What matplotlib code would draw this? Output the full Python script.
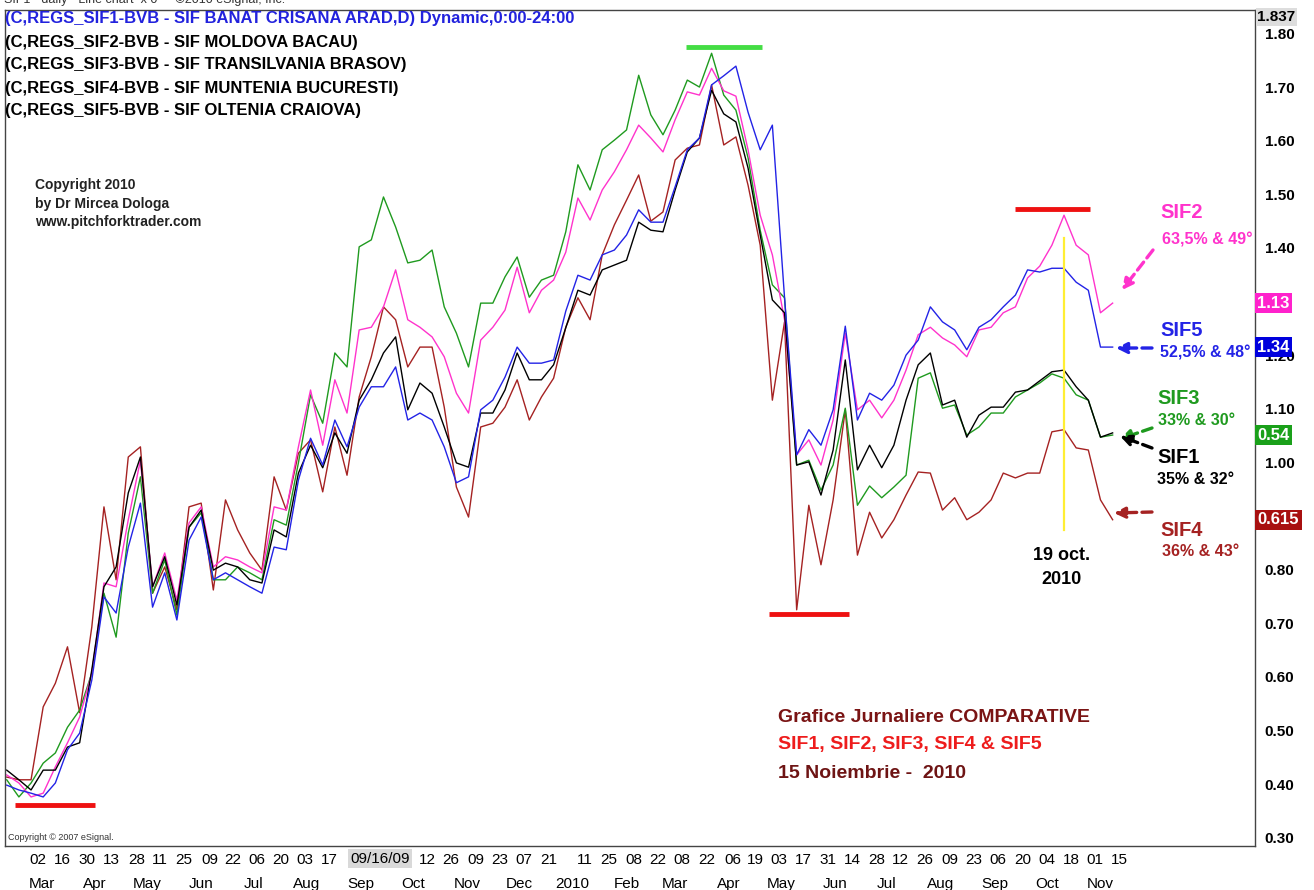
import pandas as pd
import numpy as np
import matplotlib
matplotlib.use('Agg')
import matplotlib.pyplot as plt
import matplotlib.transforms as mtrans

plt.rcParams['font.family'] = ['Liberation Sans', 'DejaVu Sans']

# weekly closes (Thursdays, 12 Feb 2009 .. 11 Nov 2010)
dates = pd.date_range('2009-02-12', periods=92, freq='7D')

sif1 = [0.426, 0.408, 0.389, 0.426, 0.426, 0.469, 0.477, 0.613, 0.768, 0.805,
        0.943, 1.010, 0.768, 0.824, 0.734, 0.879, 0.911, 0.799, 0.812, 0.805,
        0.781, 0.775, 0.874, 0.861, 0.980, 1.032, 0.990, 1.055, 1.017, 1.116,
        1.154, 1.204, 1.234, 1.098, 1.148, 1.129, 1.066, 0.999, 0.991, 1.092,
        1.092, 1.135, 1.204, 1.154, 1.154, 1.182, 1.251, 1.321, 1.312, 1.359,
        1.368, 1.377, 1.448, 1.433, 1.430, 1.508, 1.579, 1.605, 1.694, 1.650,
        1.635, 1.549, 1.424, 1.303, 1.279, 0.995, 1.001, 0.939, 1.023, 1.191,
        0.986, 1.032, 0.990, 1.032, 1.116, 1.182, 1.204, 1.107, 1.116, 1.047,
        1.088, 1.103, 1.103, 1.131, 1.135, 1.152, 1.169, 1.172, 1.141, 1.116,
        1.047, 1.055]

sif2 = [0.417, 0.402, 0.376, 0.383, 0.432, 0.477, 0.525, 0.607, 0.775, 0.768,
        0.893, 1.004, 0.768, 0.831, 0.743, 0.887, 0.917, 0.805, 0.824, 0.818,
        0.805, 0.794, 0.917, 0.911, 1.029, 1.135, 1.032, 1.154, 1.092, 1.247,
        1.252, 1.290, 1.359, 1.266, 1.252, 1.234, 1.197, 1.129, 1.092, 1.228,
        1.252, 1.284, 1.364, 1.279, 1.321, 1.340, 1.392, 1.493, 1.452, 1.508,
        1.542, 1.583, 1.629, 1.605, 1.579, 1.639, 1.691, 1.685, 1.735, 1.693,
        1.683, 1.583, 1.461, 1.387, 1.266, 1.014, 1.042, 0.995, 1.079, 1.241,
        1.098, 1.116, 1.083, 1.116, 1.172, 1.238, 1.252, 1.232, 1.219, 1.197,
        1.247, 1.252, 1.279, 1.290, 1.344, 1.366, 1.405, 1.461, 1.405, 1.387,
        1.279, 1.297]

sif3 = [0.408, 0.376, 0.402, 0.439, 0.458, 0.506, 0.538, 0.607, 0.756, 0.674,
        0.868, 0.973, 0.756, 0.818, 0.715, 0.879, 0.906, 0.781, 0.781, 0.805,
        0.794, 0.781, 0.893, 0.883, 0.999, 1.126, 1.073, 1.204, 1.178, 1.402,
        1.415, 1.495, 1.439, 1.372, 1.377, 1.396, 1.290, 1.241, 1.178, 1.297,
        1.297, 1.346, 1.383, 1.308, 1.340, 1.349, 1.430, 1.555, 1.508, 1.583,
        1.601, 1.620, 1.722, 1.648, 1.611, 1.657, 1.713, 1.700, 1.763, 1.685,
        1.657, 1.568, 1.433, 1.331, 1.307, 0.995, 1.004, 0.948, 0.995, 1.101,
        0.920, 0.956, 0.934, 0.954, 0.976, 1.157, 1.167, 1.101, 1.107, 1.051,
        1.066, 1.092, 1.092, 1.122, 1.135, 1.148, 1.165, 1.157, 1.126, 1.116,
        1.047, 1.051]

sif4 = [0.413, 0.408, 0.408, 0.544, 0.588, 0.656, 0.533, 0.693, 0.917, 0.781,
        1.010, 1.029, 0.756, 0.805, 0.725, 0.917, 0.924, 0.762, 0.930, 0.874,
        0.831, 0.799, 0.973, 0.911, 1.017, 1.042, 0.945, 1.066, 0.976, 1.122,
        1.197, 1.290, 1.266, 1.178, 1.215, 1.215, 1.103, 0.954, 0.898, 1.066,
        1.073, 1.103, 1.154, 1.079, 1.122, 1.157, 1.252, 1.307, 1.266, 1.387,
        1.443, 1.489, 1.536, 1.450, 1.467, 1.564, 1.586, 1.592, 1.704, 1.592,
        1.607, 1.517, 1.405, 1.116, 1.262, 0.725, 0.920, 0.809, 0.930, 1.098,
        0.827, 0.907, 0.859, 0.893, 0.939, 0.982, 0.980, 0.911, 0.934, 0.893,
        0.907, 0.930, 0.980, 0.971, 0.980, 0.980, 1.057, 1.061, 1.027, 1.023,
        0.930, 0.893]

sif5 = [0.398, 0.389, 0.383, 0.376, 0.402, 0.464, 0.495, 0.594, 0.749, 0.719,
        0.842, 0.924, 0.730, 0.794, 0.706, 0.855, 0.898, 0.781, 0.794, 0.781,
        0.768, 0.756, 0.842, 0.837, 0.967, 1.045, 0.995, 1.079, 1.029, 1.103,
        1.141, 1.141, 1.178, 1.079, 1.092, 1.079, 1.029, 0.962, 0.973, 1.098,
        1.116, 1.159, 1.215, 1.185, 1.185, 1.191, 1.282, 1.349, 1.340, 1.387,
        1.396, 1.424, 1.471, 1.448, 1.448, 1.514, 1.583, 1.605, 1.704, 1.721,
        1.739, 1.653, 1.583, 1.629, 1.308, 1.014, 1.061, 1.032, 1.098, 1.254,
        1.079, 1.129, 1.116, 1.144, 1.200, 1.228, 1.290, 1.262, 1.247, 1.210,
        1.252, 1.266, 1.290, 1.312, 1.359, 1.355, 1.362, 1.362, 1.336, 1.321,
        1.215, 1.215]

last_price = {'SIF2': '1.13', 'SIF5': '1.34', 'SIF3': '0.54', 'SIF4': '0.615'}
axis_top = '1.837'

# support / resistance marks drawn on the chart
levels = [('2010-03-10', '2010-04-23', 1.775, '#44dd44'),
          ('2010-09-16', '2010-10-29', 1.472, '#ee1111'),
          ('2010-04-27', '2010-06-12', 0.717, '#ee1111'),
          ('2009-02-17', '2009-04-04', 0.361, '#ee1111')]
mark_day = '2010-10-14'
mark_range = [0.874, 1.418]

day_ticks = ['2009-03-02', '2009-03-16', '2009-03-30', '2009-04-13', '2009-04-28',
             '2009-05-11', '2009-05-25', '2009-06-09', '2009-06-22', '2009-07-06',
             '2009-07-20', '2009-08-03', '2009-08-17', '2009-10-12', '2009-10-26',
             '2009-11-09', '2009-11-23', '2009-12-07', '2009-12-21', '2010-01-11',
             '2010-01-25', '2010-02-08', '2010-02-22', '2010-03-08', '2010-03-22',
             '2010-04-06', '2010-04-19', '2010-05-03', '2010-05-17', '2010-05-31',
             '2010-06-14', '2010-06-28', '2010-07-12', '2010-07-26', '2010-08-09',
             '2010-08-23', '2010-09-06', '2010-09-20', '2010-10-04', '2010-10-18',
             '2010-11-01', '2010-11-15']
month_names = ['Mar', 'Apr', 'May', 'Jun', 'Jul', 'Aug', 'Sep', 'Oct', 'Nov', 'Dec',
               '2010', 'Feb', 'Mar', 'Apr', 'May', 'Jun', 'Jul', 'Aug', 'Sep', 'Oct', 'Nov']
month_pos = pd.date_range('2009-03-01', periods=21, freq='MS') + pd.Timedelta(days=3)
hidden_y = ['1.30', '0.90']   # covered by the last-value flags

colors = {'SIF1': 'black', 'SIF2': '#ff33cc', 'SIF3': '#1f9a1f',
          'SIF4': '#a52222', 'SIF5': '#2323e6'}
box_colors = {'SIF2': '#ff22cc', 'SIF5': '#0000dd', 'SIF3': '#1aa01a', 'SIF4': '#a81010'}
series = {'SIF1': sif1, 'SIF2': sif2, 'SIF3': sif3, 'SIF4': sif4, 'SIF5': sif5}


def fx(px):
    return px / 1314


def fy(py):
    return 1 - py / 890


fig = plt.figure(figsize=(13.14, 8.90), dpi=100)
ax = fig.add_axes([fx(5), fy(846), 1250 / 1314, 836 / 890])

for name in ['SIF4', 'SIF3', 'SIF2', 'SIF1', 'SIF5']:
    ax.plot(dates, series[name], color=colors[name], lw=1.0)

for d0, d1, v, c in levels:
    ax.plot([pd.Timestamp(d0), pd.Timestamp(d1)], [v, v], color=c, lw=3.5,
            solid_capstyle='butt')
ax.plot([pd.Timestamp(mark_day)] * 2, mark_range, color='#ffee33', lw=1.6)

ax.set_xlim(pd.Timestamp('2009-02-11'), pd.Timestamp('2011-02-01'))
ax.set_ylim(0.2845, 1.8437)

ax.yaxis.tick_right()
yt = np.arange(0.3, 1.81, 0.1)
ylab = ['%.2f' % t for t in yt]
ax.set_yticks(yt)
ax.set_yticklabels(['' if l in hidden_y else l for l in ylab], fontsize=11, fontweight='bold')
ax.tick_params(axis='y', length=0, pad=7)

ax.xaxis.remove_overlapping_locs = False
ax.set_xticks(pd.to_datetime(day_ticks))
ax.set_xticklabels([d[-2:] for d in day_ticks], fontsize=11)
ax.set_xticks(month_pos, minor=True)
ax.set_xticklabels(month_names, minor=True, fontsize=11)
ax.tick_params(axis='x', which='major', length=0, pad=5)
ax.tick_params(axis='x', which='minor', length=0, pad=22)
ax.text(pd.Timestamp('2009-09-15'), -0.0066, '09/16/09', fontsize=11, ha='center',
        va='top', transform=mtrans.blended_transform_factory(ax.transData, ax.transAxes),
        bbox=dict(boxstyle='square,pad=0.15', fc='#d9d9d9', ec='none'))

for s in ax.spines.values():
    s.set_color('#444444')
    s.set_linewidth(1.0)

# last value flags on the price scale
blend = mtrans.blended_transform_factory(ax.transAxes, ax.transData)
for name, txt in last_price.items():
    ax.text(1.002, series[name][-1], txt, transform=blend, fontsize=12,
            fontweight='bold', color='white', va='center', ha='left', zorder=10,
            bbox=dict(boxstyle='square,pad=0.15', fc=box_colors[name], ec='none'))
ax.text(1.002, 1.8437, axis_top, transform=blend, fontsize=11, fontweight='bold',
        color='black', va='top', ha='left', zorder=10,
        bbox=dict(boxstyle='square,pad=0.12', fc='#dddddd', ec='none'))

# header texts
fig.text(fx(4), fy(0), 'SIF1 - daily - Line chart  x 0  -  \u00a92010 eSignal, Inc.',
         fontsize=9, color='#333333', va='center')
legend_lines = ['(C,REGS_SIF1-BVB - SIF BANAT CRISANA ARAD,D) Dynamic,0:00-24:00',
                '(C,REGS_SIF2-BVB - SIF MOLDOVA BACAU)',
                '(C,REGS_SIF3-BVB - SIF TRANSILVANIA BRASOV)',
                '(C,REGS_SIF4-BVB - SIF MUNTENIA BUCURESTI)',
                '(C,REGS_SIF5-BVB - SIF OLTENIA CRAIOVA)']
for i, (t, py) in enumerate(zip(legend_lines, [18, 43, 65, 88, 110])):
    fig.text(fx(5), fy(py), t, fontsize=12, fontweight='bold', va='center',
             color='#2222dd' if i == 0 else 'black')

for t, py in zip(['Copyright 2010', 'by Dr Mircea Dologa', 'www.pitchforktrader.com'],
                 [185, 204, 222]):
    fig.text(fx(35), fy(py), t, fontsize=10, fontweight='bold', color='#222222', va='center')
fig.text(fx(8), fy(838), 'Copyright \u00a9 2007 eSignal.', fontsize=6.5, color='#333333',
         va='center')

# right hand notes
notes = [('SIF2', '63,5% & 49\u00b0', 1160, 212, 1162, 240),
         ('SIF5', '52,5% & 48\u00b0', 1160, 330, 1160, 353),
         ('SIF3', '33% & 30\u00b0', 1157, 398, 1158, 420),
         ('SIF1', '35% & 32\u00b0', 1157, 458, 1157, 480),
         ('SIF4', '36% & 43\u00b0', 1160, 530, 1162, 551)]
for name, sub, x1, y1, x2, y2 in notes:
    fig.text(fx(x1), fy(y1), name, fontsize=14.5, fontweight='bold', color=colors[name],
             va='center')
    fig.text(fx(x2), fy(y2), sub, fontsize=11.5, fontweight='bold', color=colors[name],
             va='center')

arrows = [('SIF2', (1153, 250), (1122, 290)),
          ('SIF5', (1152, 348), (1116, 348)),
          ('SIF3', (1152, 428), (1120, 439)),
          ('SIF1', (1152, 448), (1120, 436)),
          ('SIF4', (1152, 512), (1114, 513))]
for name, p0, p1 in arrows:
    ax.annotate('', xy=(fx(p1[0]), fy(p1[1])), xytext=(fx(p0[0]), fy(p0[1])),
                xycoords='figure fraction', textcoords='figure fraction',
                arrowprops=dict(arrowstyle='-|>', color=colors[name], lw=2.4,
                                linestyle=(0, (3, 1.6)), mutation_scale=16,
                                shrinkA=0, shrinkB=0))

fig.text(fx(1062), fy(556), '19 oct.', fontsize=13, fontweight='bold', ha='center', va='center')
fig.text(fx(1062), fy(580), '2010', fontsize=13, fontweight='bold', ha='center', va='center')

fig.text(fx(778), fy(718), 'Grafice Jurnaliere COMPARATIVE', fontsize=14, fontweight='bold',
         color='#7a1414', va='center')
fig.text(fx(778), fy(745), 'SIF1, SIF2, SIF3, SIF4 & SIF5', fontsize=14, fontweight='bold',
         color='#ee1c1c', va='center')
fig.text(fx(778), fy(773), '15 Noiembrie -  2010', fontsize=14, fontweight='bold',
         color='#6e1414', va='center')

fig.savefig('out.png', dpi=100, facecolor='white')
